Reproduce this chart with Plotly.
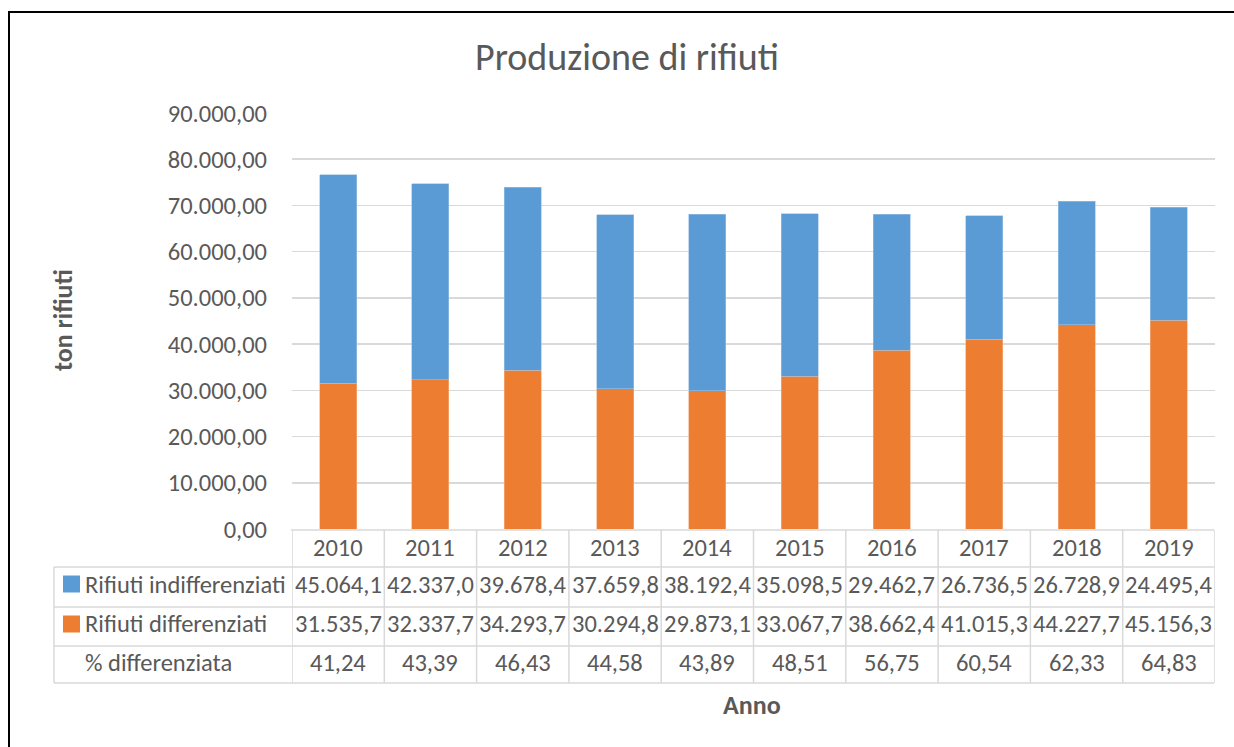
import plotly.graph_objects as go

# ---------------- data ----------------
years = ["2010", "2011", "2012", "2013", "2014", "2015", "2016", "2017", "2018", "2019"]
indifferenziati = [45064.1, 42337.0, 39678.4, 37659.8, 38192.4, 35098.5, 29462.7, 26736.5, 26728.9, 24495.4]
differenziati = [31535.7, 32337.7, 34293.7, 30294.8, 29873.1, 33067.7, 38662.4, 41015.3, 44227.7, 45156.3]
perc_differenziata = [41.24, 43.39, 46.43, 44.58, 43.89, 48.51, 56.75, 60.54, 62.33, 64.83]
row_labels = ["Rifiuti indifferenziati", "Rifiuti differenziati", "% differenziata"]
y_ticks = [0, 10000, 20000, 30000, 40000, 50000, 60000, 70000, 80000, 90000]

BLUE = "#5B9BD5"
ORANGE = "#ED7D31"
TXT = "#595959"
GRID = "#D9D9D9"
FONT = "Carlito, Lato, Calibri, sans-serif"

W, H = 1234, 747
# plot area in page pixel coordinates
L, R, T, B = 292, 1215, 113, 529


def it_num(v, dec):
    s = f"{v:,.{dec}f}"
    return s.replace(",", "X").replace(".", ",").replace("X", ".")


def py(p):
    return (B - p) / (B - T)


def px(p):
    return (p - L) / (R - L)


fig = go.Figure()
fig.add_trace(go.Bar(x=years, y=differenziati, name=row_labels[1],
                     marker=dict(color=ORANGE, line=dict(color="#F4B183", width=0.6)),
                     hoverinfo="skip"))
fig.add_trace(go.Bar(x=years, y=indifferenziati, name=row_labels[0],
                     marker=dict(color=BLUE, line=dict(color="#9DC3E6", width=0.6)),
                     hoverinfo="skip"))

shapes = []
annotations = []
n = len(years)

line = dict(color=GRID, width=1.5)
shapes.append(dict(type="line", xref="paper", yref="paper", x0=px(291), x1=px(1214),
                   y0=py(530), y1=py(530), line=line))
for yy in [567, 607, 646, 683]:
    shapes.append(dict(type="line", xref="paper", yref="paper", x0=px(54), x1=px(1214),
                       y0=py(yy), y1=py(yy), line=line))
for i in range(n + 1):
    shapes.append(dict(type="line", xref="x", yref="paper", x0=i - 0.5, x1=i - 0.5,
                       y0=py(530), y1=py(683), line=line))
shapes.append(dict(type="line", xref="paper", yref="paper", x0=px(54), x1=px(54),
                   y0=py(567), y1=py(683), line=line))

for col, yc in [(BLUE, 584), (ORANGE, 624)]:
    shapes.append(dict(type="rect", xref="paper", yref="paper", x0=px(63), x1=px(80),
                       y0=py(yc - 8.5), y1=py(yc + 8.5), fillcolor=col, line=dict(width=0)))

# chart frame (left and top black border)
shapes.append(dict(type="line", xref="paper", yref="paper", x0=px(9), x1=px(9),
                   y0=py(12), y1=py(770), line=dict(color="#000000", width=2)))
shapes.append(dict(type="line", xref="paper", yref="paper", x0=px(8), x1=px(1260),
                   y0=py(12), y1=py(12), line=dict(color="#000000", width=2)))

FS = 24.5
tf = dict(family=FONT, size=FS, color=TXT)
for i, yv in enumerate(years):
    annotations.append(dict(x=i, y=py(548), xref="x", yref="paper", text=yv,
                            showarrow=False, font=tf, xanchor="center", yanchor="middle"))
rows = [
    [it_num(v, 1) for v in indifferenziati],
    [it_num(v, 1) for v in differenziati],
    [it_num(v, 2) for v in perc_differenziata],
]
row_y = [585, 624, 663]
for r, (vals, yc) in enumerate(zip(rows, row_y)):
    annotations.append(dict(x=px(83), y=py(yc), xref="paper", yref="paper", text=row_labels[r],
                            showarrow=False, font=tf, xanchor="left", yanchor="middle"))
    for i, t in enumerate(vals):
        annotations.append(dict(x=i, y=py(yc), xref="x", yref="paper", text=t,
                                showarrow=False, font=tf, xanchor="center", yanchor="middle"))

annotations.append(dict(x=px(63), y=py(320), xref="paper", yref="paper", text="<b>ton rifiuti</b>",
                        textangle=-90, showarrow=False,
                        font=dict(family=FONT, size=26, color=TXT),
                        xanchor="center", yanchor="middle"))
annotations.append(dict(x=px(752), y=py(705), xref="paper", yref="paper", text="<b>Anno</b>",
                        showarrow=False, font=dict(family=FONT, size=26, color=TXT),
                        xanchor="center", yanchor="middle"))
annotations.append(dict(x=px(627), y=py(57), xref="paper", yref="paper", text="Produzione di rifiuti",
                        showarrow=False, font=dict(family=FONT, size=38, color=TXT),
                        xanchor="center", yanchor="middle"))

fig.update_layout(
    width=W, height=H,
    barmode="stack",
    bargap=0.6,
    showlegend=False,
    separators=",.",
    paper_bgcolor="white",
    plot_bgcolor="white",
    margin=dict(l=L, r=W - R, t=T, b=H - B, pad=0),
    xaxis=dict(type="category", showticklabels=False, showgrid=False, zeroline=False,
               showline=False, ticks="", range=[-0.5, n - 0.5], fixedrange=True),
    yaxis=dict(range=[0, 90000], tickvals=y_ticks, tickformat=",.2f",
               showgrid=True, gridcolor=GRID, gridwidth=1.5, zeroline=False, showline=False,
               ticks="", ticklabelstandoff=24,
               tickfont=dict(family=FONT, size=FS, color=TXT), fixedrange=True),
    shapes=shapes,
    annotations=annotations,
    font=dict(family=FONT, color=TXT),
    hovermode=False,
)

fig.write_html("out.html",
               config={"displayModeBar": False, "staticPlot": True},
               post_script="document.body.style.margin='0';document.body.style.overflow='hidden';")
